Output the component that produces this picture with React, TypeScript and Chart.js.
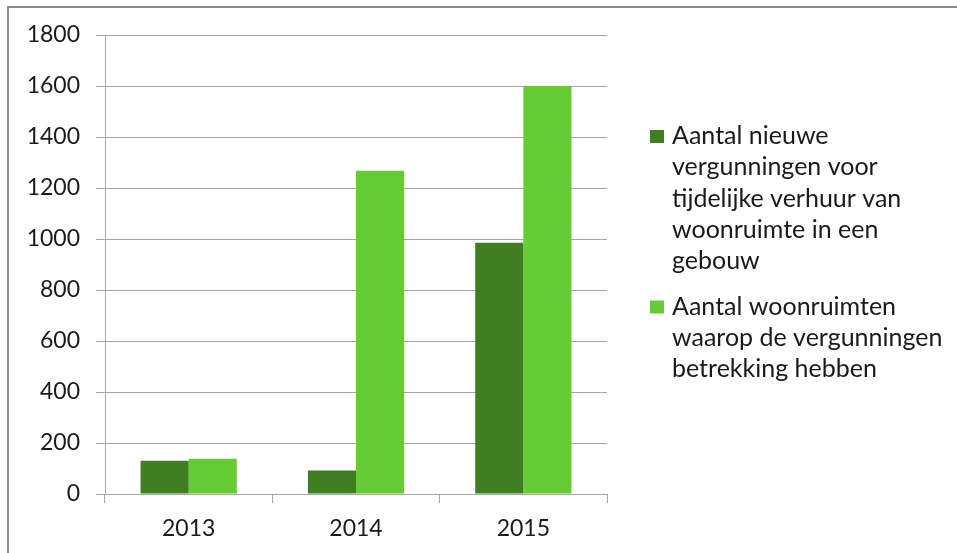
import React, { useEffect, useRef } from "react";
import { Chart, registerables } from "chart.js";

Chart.register(...registerables);

const categories = ["2013", "2014", "2015"];
const permits = [130, 92, 985];
const dwellings = [138, 1268, 1600];
const seriesNames = [
  "Aantal nieuwe vergunningen voor tijdelijke verhuur van woonruimte in een gebouw",
  "Aantal woonruimten waarop de vergunningen betrekking hebben",
];
const legendLines = [
  ["Aantal nieuwe", "vergunningen voor", "tijdelijke verhuur van", "woonruimte in een", "gebouw"],
  ["Aantal woonruimten", "waarop de vergunningen", "betrekking hebben"],
];
const seriesColors = ["#407E22", "#66CC33"];
const yMin = 0;
const yMax = 1800;
const yStep = 200;

const FONT = "Lato, 'Open Sans', sans-serif";
const TEXT = "#1a1a1a";
const GRID = "#a6a6a6";

const sideLegend = {
  id: "sideLegend",
  afterDraw(chart: any) {
    const ctx = chart.ctx;
    const x0 = 650;
    const textX = 672;
    const lineH = 31.3;
    const itemGap = 14;
    let baseline = 144;
    ctx.save();
    ctx.font = `25px ${FONT}`;
    ctx.textBaseline = "alphabetic";
    ctx.textAlign = "left";
    legendLines.forEach((lines, i) => {
      ctx.fillStyle = seriesColors[i];
      ctx.fillRect(x0, baseline - 14, 14, 13);
      ctx.fillStyle = TEXT;
      lines.forEach((line, j) => {
        ctx.fillText(line, textX, baseline + j * lineH);
      });
      baseline += lines.length * lineH + itemGap;
    });
    ctx.restore();
  },
};

export default function App() {
  const ref = useRef<HTMLCanvasElement | null>(null);

  useEffect(() => {
    if (!ref.current) return;
    const chart = new Chart(ref.current, {
      type: "bar",
      data: {
        labels: categories,
        datasets: [
          {
            label: seriesNames[0],
            data: permits,
            backgroundColor: seriesColors[0],
            borderWidth: 0,
            categoryPercentage: 0.575,
            barPercentage: 1,
          },
          {
            label: seriesNames[1],
            data: dwellings,
            backgroundColor: seriesColors[1],
            borderWidth: 0,
            categoryPercentage: 0.575,
            barPercentage: 1,
          },
        ],
      },
      options: {
        responsive: false,
        animation: false,
        devicePixelRatio: 1,
        layout: { padding: { top: 35, right: 350, left: 0, bottom: 0 } },
        plugins: {
          legend: { display: false },
          tooltip: { enabled: false },
          title: { display: false },
        },
        scales: {
          x: {
            grid: {
              display: true,
              drawOnChartArea: false,
              drawTicks: true,
              tickLength: 9,
              color: GRID,
              offset: true,
            },
            border: { display: true, color: GRID },
            ticks: { font: { family: FONT, size: 23 }, color: TEXT, padding: 12 },
            afterFit: (scale: any) => {
              scale.height = 59;
            },
          },
          y: {
            min: yMin,
            max: yMax,
            grid: { color: GRID, tickLength: 9, drawTicks: true },
            border: { display: true, color: GRID },
            ticks: {
              stepSize: yStep,
              font: { family: FONT, size: 23 },
              color: TEXT,
              padding: 16,
              callback: (v: any) => String(v),
            },
            afterFit: (scale: any) => {
              scale.width = 105;
            },
          },
        },
      },
      plugins: [sideLegend],
    });
    return () => chart.destroy();
  }, []);

  return (
    <div
      style={{
        position: "fixed",
        left: 0,
        top: 0,
        width: 957,
        height: 553,
        overflow: "hidden",
        background: "#ffffff",
      }}
    >
      <canvas ref={ref} width={957} height={553} style={{ position: "absolute", left: 0, top: 0 }} />
      <div
        style={{
          position: "absolute",
          left: 7,
          top: 6,
          width: 2000,
          height: 2000,
          border: "2px solid #8c8c8c",
          pointerEvents: "none",
        }}
      />
    </div>
  );
}
